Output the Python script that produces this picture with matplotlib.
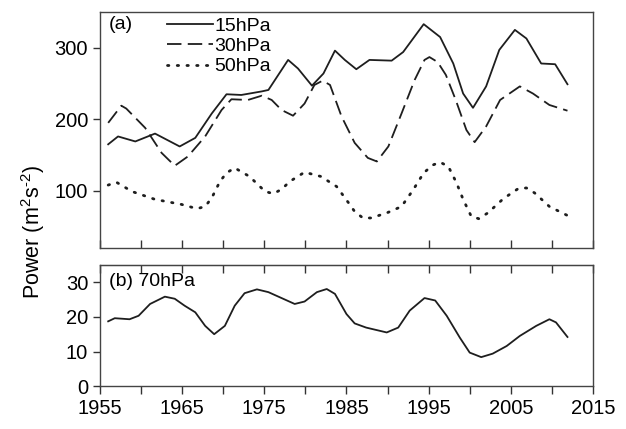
import matplotlib
matplotlib.use("Agg")
import matplotlib.pyplot as plt

plt.rcParams['font.family'] = ['Liberation Sans', 'DejaVu Sans']
plt.rcParams['mathtext.fontset'] = 'custom'
plt.rcParams['mathtext.rm'] = 'Liberation Sans'
plt.rcParams['mathtext.it'] = 'Liberation Sans'

# 15hPa (solid)
yr15 = [1956.0, 1957.2, 1959.3, 1961.7, 1964.7, 1966.6, 1968.6, 1970.4, 1972.2, 1974.7,
        1975.5, 1977.9, 1979.1, 1980.8, 1982.2, 1983.6, 1984.8, 1986.2, 1987.8, 1990.5,
        1991.9, 1994.4, 1996.4, 1998.0, 1999.2, 2000.4, 2002.0, 2003.6, 2005.5, 2006.9,
        2008.7, 2010.4, 2011.9]
p15 = [165, 176, 169, 180, 162, 174, 208, 235, 234, 239,
       241, 283, 271, 247, 264, 296, 283, 270, 283, 282,
       294, 333, 315, 278, 236, 216, 246, 297, 325, 313,
       278, 277, 249]

# 30hPa (dashed)
yr30 = [1956.0, 1957.6, 1958.2, 1960.5, 1962.5, 1964.1, 1965.7, 1967.8, 1969.8, 1971.0,
        1973.0, 1974.7, 1975.9, 1977.1, 1978.5, 1979.9, 1981.1, 1982.1, 1983.0, 1984.4,
        1986.0, 1987.6, 1988.7, 1990.1, 1991.7, 1993.3, 1994.5, 1995.1, 1996.1, 1997.1,
        1998.3, 1999.6, 2000.6, 2002.0, 2003.7, 2006.1, 2007.7, 2009.7, 2011.9]
p30 = [195, 219, 215, 188, 153, 135, 148, 176, 213, 228,
       227, 233, 227, 213, 205, 222, 248, 254, 248, 204,
       167, 146, 141, 162, 208, 255, 283, 287, 280, 262,
       227, 185, 168, 190, 227, 246, 236, 220, 212]

# 50hPa (dotted)
yr50 = [1956.0, 1957.0, 1958.9, 1961.7, 1964.9, 1966.8, 1967.8, 1968.6, 1969.6, 1970.4,
        1971.4, 1973.2, 1975.1, 1976.1, 1977.1, 1978.1, 1979.9, 1981.9, 1983.8, 1985.2,
        1986.0, 1987.0, 1988.0, 1989.9, 1991.7, 1993.1, 1994.4, 1995.5, 1996.4, 1997.4,
        1998.4, 1999.2, 2000.2, 2001.1, 2002.2, 2004.1, 2005.9, 2006.9, 2007.9, 2009.7,
        2011.8]
p50 = [108, 112, 99, 88, 81, 75, 78, 90, 113, 125,
       132, 120, 99, 96, 102, 113, 126, 120, 106, 84,
       71, 62, 62, 69, 78, 101, 125, 136, 140, 134,
       111, 88, 64, 61, 69, 89, 103, 104, 97, 78,
       66]

# 70hPa
yr70 = [1956.0, 1956.8, 1958.6, 1959.7, 1961.1, 1962.9, 1964.1, 1965.3, 1966.6, 1967.8,
        1968.9, 1970.2, 1971.4, 1972.6, 1974.1, 1975.5, 1977.1, 1978.7, 1979.9, 1981.4,
        1982.6, 1983.6, 1985.0, 1986.0, 1987.4, 1989.9, 1991.3, 1992.7, 1994.5, 1995.8,
        1997.2, 1998.8, 2000.0, 2001.4, 2002.8, 2004.5, 2006.1, 2008.1, 2009.7, 2010.5,
        2011.9]
p70 = [18.7, 19.6, 19.3, 20.3, 23.7, 25.8, 25.2, 23.2, 21.3, 17.4,
       15.0, 17.4, 23.2, 26.8, 27.9, 27.1, 25.4, 23.7, 24.4, 27.1,
       28.0, 26.6, 20.8, 18.1, 16.9, 15.5, 16.9, 21.8, 25.4, 24.7,
       20.3, 14.0, 9.7, 8.4, 9.4, 11.6, 14.5, 17.4, 19.3, 18.4,
       14.2]

xticks = list(range(1955, 2016, 5))
xlabels = [str(t) if (t - 1955) % 10 == 0 else '' for t in xticks]

lc = '#1e1e1e'
tc = '#333333'
fig = plt.figure(figsize=(6.26, 4.29), dpi=100)
ax1 = fig.add_axes([0.1597, 0.4219, 0.7875, 0.5501])
ax2 = fig.add_axes([0.1597, 0.0995, 0.7875, 0.2835])

ax1.plot(yr15, p15, color=lc, lw=1.3, ls='-', solid_joinstyle='round', label='15hPa')
ax1.plot(yr30, p30, color=lc, lw=1.3, ls=(0, (8, 3.5)), dash_joinstyle='round', label='30hPa')
ax1.plot(yr50, p50, color=lc, lw=2.0, ls=(0, (0.5, 3)), dash_capstyle='round', label='50hPa')
ax1.set_xlim(1955, 2015)
ax1.set_ylim(20, 350)
ax1.set_yticks([100, 200, 300])
ax1.set_xticks(xticks)
ax1.set_xticklabels([])
ax1.tick_params(axis='x', direction='in', length=5.5, width=1, colors=tc)
ax1.tick_params(axis='y', direction='out', length=5, width=1, labelsize=14.5, colors=tc,
                labelcolor='black')
ax1.text(0.018, 0.985, '(a)', transform=ax1.transAxes, fontsize=14, va='top', ha='left')
ax1.legend(loc='upper left', bbox_to_anchor=(0.12, 1.01), frameon=False, fontsize=14,
           handlelength=2.35, handletextpad=0.1, labelspacing=0.13, borderaxespad=0)

ax2.plot(yr70, p70, color=lc, lw=1.3, solid_joinstyle='round')
ax2.set_xlim(1955, 2015)
ax2.set_ylim(0, 35)
ax2.set_yticks([0, 10, 20, 30])
ax2.set_xticks(xticks)
ax2.set_xticklabels(xlabels)
ax2.tick_params(axis='x', direction='out', length=5.5, width=1, labelsize=14.5, colors=tc,
                labelcolor='black')
ax2.tick_params(axis='y', direction='out', length=5, width=1, labelsize=14.5, colors=tc,
                labelcolor='black')
ax2.text(0.018, 0.93, '(b) 70hPa', transform=ax2.transAxes, fontsize=14, va='top', ha='left')

# top ticks of lower panel point inward
sec = ax2.secondary_xaxis('top')
sec.set_xticks(xticks)
sec.set_xticklabels([])
sec.tick_params(direction='in', length=5.5, width=1, colors=tc)

for ax in (ax1, ax2):
    for s in ax.spines.values():
        s.set_color('#444444')
        s.set_linewidth(1.0)
for s in sec.spines.values():
    s.set_color('#444444')

fig.text(0.053, 0.46, 'Power (m$^{2}$s$^{\\text{-}2}$)', rotation=90, fontsize=15.5,
         ha='center', va='center')

fig.savefig('out.png', dpi=100)
